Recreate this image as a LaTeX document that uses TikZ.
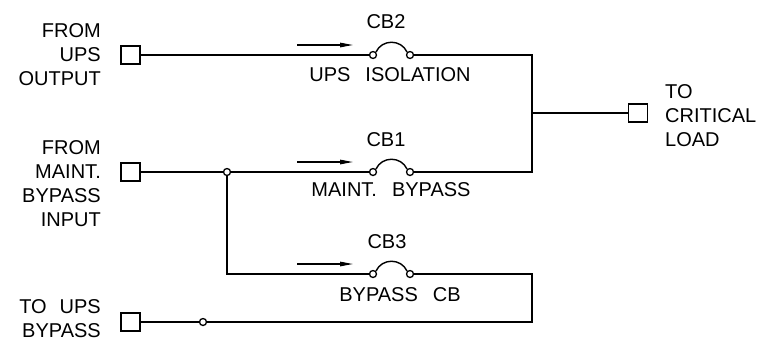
\documentclass[tikz,border=0pt]{standalone}
\usepackage{fontspec}
\setmainfont{Liberation Sans}
\usetikzlibrary{arrows.meta,calc}
\begin{document}
\begin{tikzpicture}[x=1pt,y=-1pt,
  wire/.style={line width=1.6pt},
  term/.style={draw,line width=1.5pt,minimum width=19pt,minimum height=18pt,inner sep=0pt,fill=white},
  contact/.style={circle,draw,line width=1.3pt,fill=white,minimum size=7pt,inner sep=0pt},
  lbl/.style={font=\fontsize{20}{24}\selectfont,inner sep=0pt},
  flow/.style={line width=1.3pt,-{Triangle[length=13pt,width=4.5pt]}},
  arcst/.style={line width=1.4pt}]
\useasboundingbox (0,0) rectangle (761,349);
% terminals
\node[term] (t1) at (130.5,55) {};
\node[term] (t2) at (130.5,172) {};
\node[term] (t3) at (130.5,322) {};
\node[term] (t4) at (638,113) {};
% contacts
\node[contact] (c2a) at (373,55) {};
\node[contact] (c2b) at (410,55) {};
\node[contact] (c1a) at (373,172) {};
\node[contact] (c1b) at (410,172) {};
\node[contact] (c3a) at (373,274) {};
\node[contact] (c3b) at (410,274) {};
\node[contact] (j1) at (227,172) {};
\node[contact] (j2) at (203,322) {};
% corners
\coordinate (r2) at (532,55);
\coordinate (r1) at (532,172);
\coordinate (rm) at (532,113);
\coordinate (j3) at (227,274);
\coordinate (r3) at (532,274);
\coordinate (r4) at (532,322);
% wires
\draw[wire] (t1) -- (c2a);
\draw[wire] (c2b) -- (r2) -- (r1) -- (c1b);
\draw[wire] (t2) -- (j1) -- (c1a);
\draw[wire] (rm) -- (t4);
\draw[wire] (j1) -- (j3) -- (c3a);
\draw[wire] (c3b) -- (r3) -- (r4) -- (j2) -- (t3);
% breaker arcs
\foreach \a/\b in {c2a/c2b,c1a/c1b,c3a/c3b}{
  \draw[arcst] ($(\a)+(3,-3)$) .. controls ($(\a)+(9,-16)$) and ($(\b)+(-9,-16)$) .. ($(\b)+(-3,-3)$);
  \draw[flow] ($(\a)+(-76,-10)$) -- ($(\a)+(-20,-10)$);
}
% labels
\node[lbl] (l2) at (386,22) {CB2};
\node[lbl] (d2) at (390,75) {UPS\hspace{15pt}ISOLATION};
\node[lbl] (l1) at (386,140) {CB1};
\node[lbl] (d1) at (391,190) {MAINT.\hspace{15pt}BYPASS};
\node[lbl] (l3) at (387,242) {CB3};
\node[lbl] (d3) at (400,295) {BYPASS\hspace{15pt}CB};
\node[lbl,anchor=east,align=right] (s1) at (101,55) {FROM\\UPS\\OUTPUT};
\node[lbl,anchor=east,align=right] (s2) at (101,184) {FROM\\MAINT.\\BYPASS\\INPUT};
\node[lbl,anchor=east,align=right] (s3) at (101,318.5) {TO\hspace{13pt}UPS\\BYPASS};
\node[lbl,anchor=west,align=left] (s4) at (665,116) {TO\\CRITICAL\\LOAD};
\end{tikzpicture}
\end{document}
